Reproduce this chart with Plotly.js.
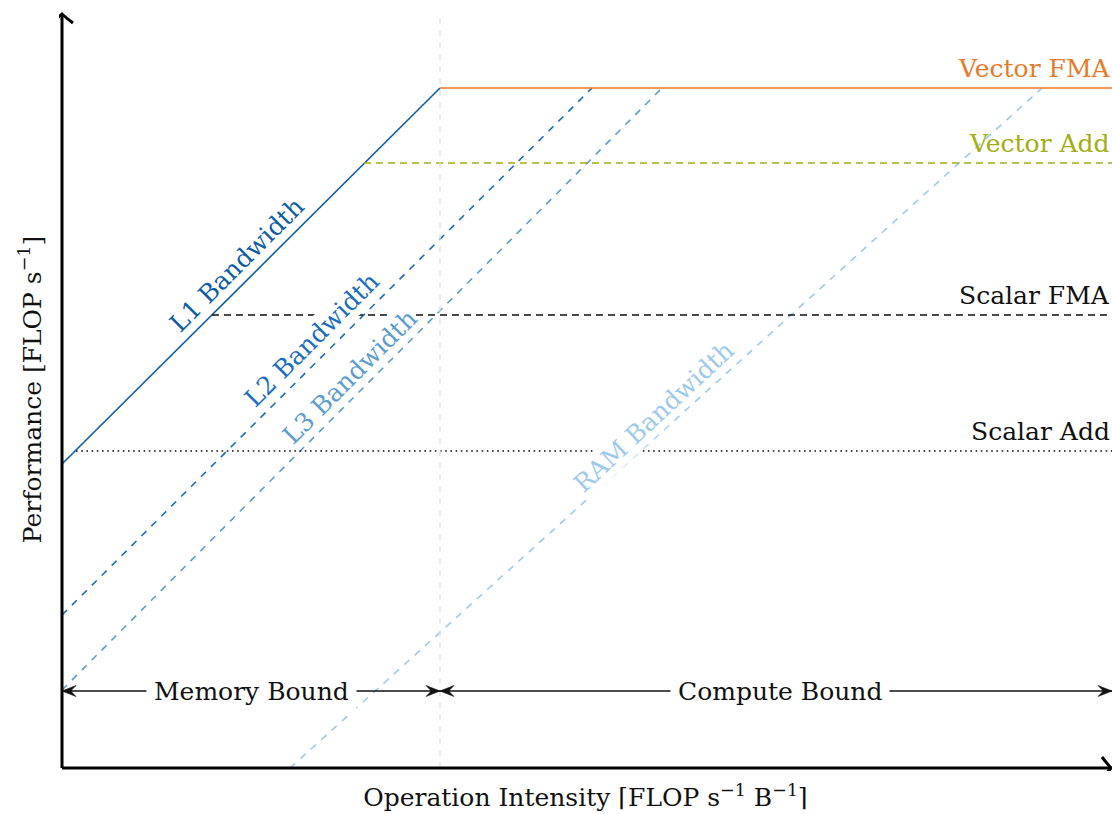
<!DOCTYPE html>
<html>
<head>
<meta charset="utf-8">
<script src="https://cdn.plot.ly/plotly-3.0.1.min.js"></script>
<style>html,body{margin:0;padding:0;background:#fff;}#chart{width:1112px;height:814px;}</style>
</head>
<body>
<div id="chart"></div>
<script>
// Roofline model (arbitrary linear units)
const roofNames  = ['Vector FMA', 'Vector Add', 'Scalar FMA', 'Scalar Add'];
const roofY      = [680, 605, 453, 317];
const roofStartX = [378, 302, 150, 14];
const roofColors = ['#E8792B', '#A3AD14', '#111111', '#111111'];
const roofDash   = ['solid', '7px,5px', '7px,5px', '1.6px,3.6px'];

const bwNames  = ['L1 Bandwidth', 'L2 Bandwidth', 'L3 Bandwidth', 'RAM Bandwidth'];
const bwX0     = [0, 0, 0, 228];
const bwY0     = [304, 153, 78, 0];
const bwX1     = [378, 530, 600, 980];
const bwY1     = [680, 680, 680, 680];
const bwColors = ['#0E5CA6', '#1A6DC2', '#5C9CD1', '#9DC9EC'];
const bwDash   = ['solid', '7px,7px', '7px,7px', '7px,7px'];
const bwLabelX = [174, 249, 287, 591];
const bwLabelY = [503, 428, 391, 351];
const bwLabelAngle = [-45, -45, -45, -43];

const ridgeX = 378;
const xMax = 1050, yMax = 754;
const xMin = -3, yMin = -3, yTop = 760;
const boundY = 77;
const boundNames = ['Memory Bound', 'Compute Bound'];
const boundX0 = [0, 378];
const boundX1 = [378, 1050];
const boundTextX = [189, 718];

const FONT = 'DejaVu Serif';
const FS = 25;
const traces = [];
for (let i = 0; i < bwNames.length; i++) {
  traces.push({x: [bwX0[i], bwX1[i]], y: [bwY0[i], bwY1[i]], mode: 'lines', type: 'scatter',
    line: {color: bwColors[i], width: 1.6, dash: bwDash[i]}, hoverinfo: 'skip', showlegend: false});
}
for (let i = 0; i < roofNames.length; i++) {
  traces.push({x: [roofStartX[i], xMax], y: [roofY[i], roofY[i]], mode: 'lines', type: 'scatter',
    line: {color: roofColors[i], width: 1.6, dash: roofDash[i]}, hoverinfo: 'skip', showlegend: false});
}
// ridge point vertical
traces.push({x: [ridgeX, ridgeX], y: [0, yMax], mode: 'lines', type: 'scatter',
  line: {color: '#dddddd', width: 1.3, dash: '6px,6px'}, hoverinfo: 'skip', showlegend: false});

// arrowhead helpers (axis units are 1:1 with pixels)
function stealth(tx, ty, dx, dy, L, W) {
  const nx = -dy, ny = dx;
  const p = (a, b) => (tx + dx * a + nx * b) + ',' + (ty + dy * a + ny * b);
  return 'M' + p(0, 0) + ' L' + p(-L, W) + ' L' + p(-0.62 * L, 0) + ' L' + p(-L, -W) + ' Z';
}
function chevron(tx, ty, dx, dy, L, W) {
  const nx = -dy, ny = dx;
  const p = (a, b) => (tx + dx * a + nx * b) + ',' + (ty + dy * a + ny * b);
  return 'M' + p(-L, W) + ' Q' + p(-0.35 * L, 0.3 * W) + ' ' + p(0, 0) +
         ' Q' + p(-0.35 * L, -0.3 * W) + ' ' + p(-L, -W);
}

const shapes = [];
// axes
shapes.push({type: 'line', xref: 'x', yref: 'y', x0: 0, y0: 0, x1: xMax - 1, y1: 0, layer: 'above',
  line: {color: '#000', width: 3}});
shapes.push({type: 'line', xref: 'x', yref: 'y', x0: 0, y0: 0, x1: 0, y1: yMax, layer: 'above',
  line: {color: '#000', width: 3}});
shapes.push({type: 'path', xref: 'x', yref: 'y', path: chevron(xMax - 1, 0, 1, 0, 9, 11), layer: 'above',
  line: {color: '#000', width: 3}});
shapes.push({type: 'path', xref: 'x', yref: 'y', path: chevron(0, yMax, 0, 1, 9, 11), layer: 'above',
  line: {color: '#000', width: 3}});
// bound arrows
for (let i = 0; i < boundNames.length; i++) {
  shapes.push({type: 'line', xref: 'x', yref: 'y', x0: boundX0[i], y0: boundY, x1: boundX1[i], y1: boundY,
    layer: 'above', line: {color: '#111', width: 1.4}});
  shapes.push({type: 'path', xref: 'x', yref: 'y', path: stealth(boundX1[i], boundY, 1, 0, 14, 5.5),
    layer: 'above', fillcolor: '#111', line: {color: '#111', width: 0.6}});
  shapes.push({type: 'path', xref: 'x', yref: 'y', path: stealth(boundX0[i], boundY, -1, 0, 14, 5.5),
    layer: 'above', fillcolor: '#111', line: {color: '#111', width: 0.6}});
}

const ann = [];
for (let i = 0; i < roofNames.length; i++) {
  ann.push({x: xMax, y: roofY[i], xref: 'x', yref: 'y', text: roofNames[i], showarrow: false,
    xanchor: 'right', yanchor: 'bottom', yshift: 3, font: {family: FONT, size: FS, color: roofColors[i]}});
}
for (let i = 0; i < bwNames.length; i++) {
  ann.push({x: bwLabelX[i], y: bwLabelY[i], xref: 'x', yref: 'y', text: bwNames[i], showarrow: false,
    textangle: bwLabelAngle[i], bgcolor: '#ffffff', borderpad: 1,
    font: {family: FONT, size: FS, color: bwColors[i]}});
}
for (let i = 0; i < boundNames.length; i++) {
  ann.push({x: boundTextX[i], y: boundY, xref: 'x', yref: 'y', text: boundNames[i], showarrow: false,
    bgcolor: '#ffffff', borderpad: 7, font: {family: FONT, size: FS, color: '#111'}});
}

const layout = {
  width: 1112, height: 814,
  margin: {l: 59, r: 0, t: 8, b: 43},
  paper_bgcolor: '#fff', plot_bgcolor: '#fff',
  showlegend: false,
  xaxis: {range: [xMin, xMax], showgrid: false, zeroline: false, showticklabels: false, showline: false, ticks: '',
    fixedrange: true,
    title: {text: 'Operation Intensity ⌈FLOP s<sup>−1</sup> B<sup>−1</sup>⌉', font: {family: FONT, size: FS, color: '#111'}, standoff: 17}},
  yaxis: {range: [yMin, yTop], showgrid: false, zeroline: false, showticklabels: false, showline: false, ticks: '',
    fixedrange: true,
    title: {text: 'Performance [FLOP s<sup>−1</sup>]', font: {family: FONT, size: FS, color: '#111'}, standoff: 9}},
  shapes: shapes,
  annotations: ann
};
Plotly.newPlot('chart', traces, layout, {displayModeBar: false, staticPlot: true});
</script>
</body>
</html>
